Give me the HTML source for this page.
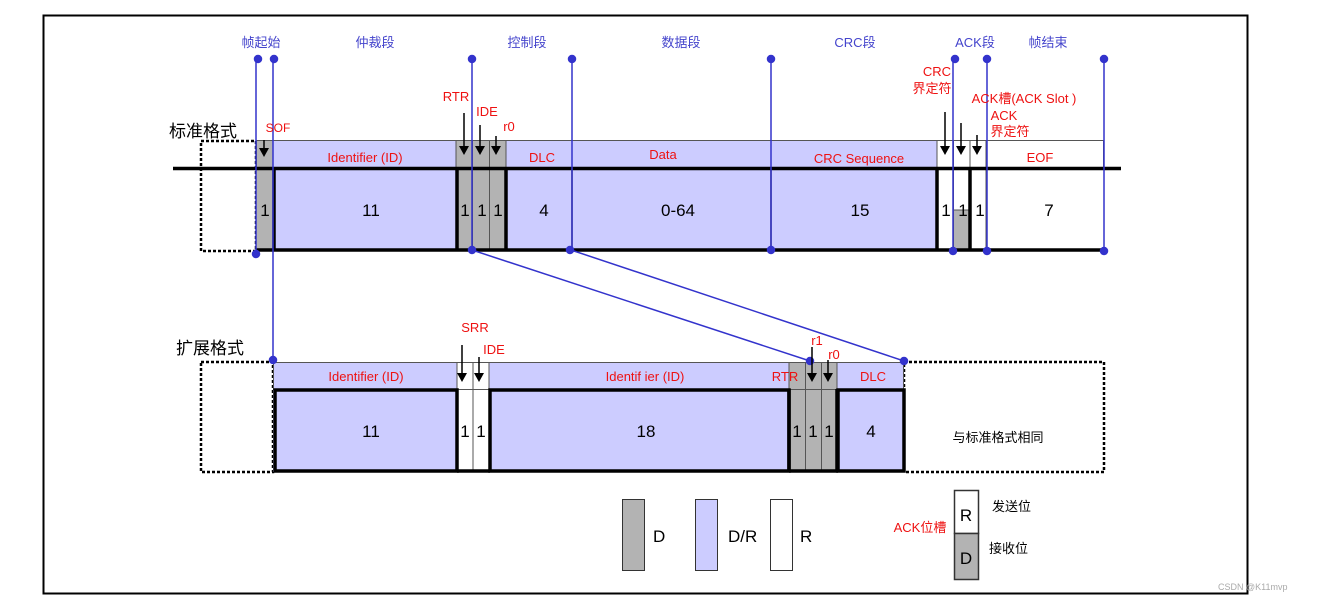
<!DOCTYPE html>
<html><head><meta charset="utf-8"><style>
html,body{margin:0;padding:0;background:#fff;}
svg{display:block;}
text{font-family:"Liberation Sans","Noto Sans CJK SC",sans-serif;}
</style></head><body>
<svg width="1320" height="602" viewBox="0 0 1320 602" xmlns="http://www.w3.org/2000/svg">
<rect x="0" y="0" width="1320" height="602" fill="#fff"/>
<rect x="43.5" y="15.5" width="1204" height="578" fill="none" stroke="#000" stroke-width="2"/>

<!-- ===== Standard frame ===== -->
<!-- fills -->
<rect x="201" y="141" width="55" height="110" fill="#fff" stroke="#000" stroke-width="2.5" stroke-dasharray="3,2"/>
<rect x="256" y="140" width="17" height="111" fill="#b3b3b3"/>
<rect x="273" y="140" width="183" height="111" fill="#ccccff"/>
<rect x="456" y="140" width="50" height="111" fill="#b3b3b3"/>
<rect x="506" y="140" width="431" height="111" fill="#ccccff"/>
<rect x="937" y="140" width="167" height="111" fill="#fff"/>
<rect x="954" y="210" width="16" height="41" fill="#b3b3b3"/>
<!-- top row thin borders -->
<g stroke="#555" stroke-width="1" fill="none">
<rect x="256.5" y="140.5" width="847" height="28"/>
<line x1="273" y1="140" x2="273" y2="168"/>
<line x1="456" y1="140" x2="456" y2="168"/>
<line x1="472.5" y1="140" x2="472.5" y2="251"/>
<line x1="489.5" y1="140" x2="489.5" y2="251"/>
<line x1="506" y1="140" x2="506" y2="168"/>
<line x1="937" y1="140" x2="937" y2="251"/>
<line x1="953.5" y1="140" x2="953.5" y2="251"/>
<line x1="970" y1="140" x2="970" y2="251"/>
<line x1="986" y1="140" x2="986" y2="251"/>
<line x1="954" y1="210" x2="970" y2="210"/>
</g>
<!-- thick lines -->
<g stroke="#000" stroke-width="3.5" fill="none">
<line x1="173" y1="168.5" x2="1121" y2="168.5"/>
<line x1="256" y1="250" x2="1104" y2="250"/>
<line x1="274" y1="168" x2="274" y2="251"/>
<line x1="457" y1="168" x2="457" y2="251"/>
<line x1="506" y1="168" x2="506" y2="251"/>
<line x1="937" y1="168" x2="937" y2="251"/>
<line x1="970" y1="168" x2="970" y2="251"/>
</g>
<g stroke="#333" stroke-width="1.5">
<line x1="572" y1="168" x2="572" y2="250"/>
<line x1="771" y1="168" x2="771" y2="250"/>
</g>

<!-- ===== Extended frame ===== -->
<rect x="201" y="362" width="72" height="110" fill="#fff" stroke="#000" stroke-width="2.5" stroke-dasharray="3,2"/>
<rect x="904" y="362" width="200" height="110" fill="#fff" stroke="#000" stroke-width="2.5" stroke-dasharray="3,2"/>
<rect x="273" y="362" width="184" height="110" fill="#ccccff"/>
<rect x="457" y="362" width="32" height="110" fill="#fff"/>
<rect x="489" y="362" width="300" height="110" fill="#ccccff"/>
<rect x="789" y="362" width="48" height="110" fill="#b3b3b3"/>
<rect x="837" y="362" width="67" height="110" fill="#ccccff"/>
<g stroke="#555" stroke-width="1" fill="none">
<rect x="273.5" y="362.5" width="630" height="27"/>
<line x1="457" y1="362" x2="457" y2="472"/>
<line x1="473" y1="362" x2="473" y2="472"/>
<line x1="489" y1="362" x2="489" y2="389"/>
<line x1="789" y1="362" x2="789" y2="389"/>
<line x1="805.5" y1="362" x2="805.5" y2="472"/>
<line x1="821.5" y1="362" x2="821.5" y2="472"/>
<line x1="837" y1="362" x2="837" y2="389"/>
</g>
<g stroke="#000" stroke-width="3.5" fill="none">
<rect x="275" y="390" width="182" height="81"/>
<rect x="490" y="390" width="299" height="81"/>
<rect x="838" y="390" width="66" height="81"/>
<line x1="457" y1="471" x2="490" y2="471"/>
<line x1="789" y1="471" x2="838" y2="471"/>
<line x1="789" y1="389" x2="789" y2="472"/>
<line x1="837" y1="389" x2="837" y2="472"/>
</g>

<!-- ===== Blue lines ===== -->
<g stroke="#3333cc" stroke-width="1.5" fill="#3333cc">
<line x1="256" y1="59" x2="256" y2="254"/>
<line x1="273" y1="59" x2="273" y2="360"/>
<line x1="472" y1="59" x2="472" y2="250"/>
<line x1="572" y1="59" x2="572" y2="250"/>
<line x1="771" y1="59" x2="771" y2="250"/>
<line x1="953" y1="59" x2="953" y2="252"/>
<line x1="987" y1="59" x2="987" y2="251"/>
<line x1="1104" y1="59" x2="1104" y2="251"/>
<line x1="472" y1="250" x2="810" y2="361"/>
<line x1="571" y1="250" x2="904" y2="361"/>
<circle cx="258" cy="59" r="3.5"/><circle cx="274" cy="59" r="3.5"/>
<circle cx="472" cy="59" r="3.5"/><circle cx="572" cy="59" r="3.5"/>
<circle cx="771" cy="59" r="3.5"/><circle cx="955" cy="59" r="3.5"/>
<circle cx="987" cy="59" r="3.5"/><circle cx="1104" cy="59" r="3.5"/>
<circle cx="256" cy="254" r="3.5"/><circle cx="472" cy="250" r="3.5"/>
<circle cx="570" cy="250" r="3.5"/><circle cx="771" cy="250" r="3.5"/>
<circle cx="953" cy="251" r="3.5"/><circle cx="987" cy="251" r="3.5"/>
<circle cx="1104" cy="251" r="3.5"/>
<circle cx="273" cy="360" r="3.5"/><circle cx="810" cy="361" r="3.5"/><circle cx="904" cy="361" r="3.5"/>
</g>

<!-- ===== arrows ===== -->
<g stroke="#000" stroke-width="1.5">
<line x1="264" y1="140" x2="264" y2="150"/>
<line x1="464" y1="113" x2="464" y2="148"/>
<line x1="480" y1="125" x2="480" y2="148"/>
<line x1="496" y1="136" x2="496" y2="148"/>
<line x1="945" y1="112" x2="945" y2="148"/>
<line x1="961" y1="123" x2="961" y2="148"/>
<line x1="977" y1="135" x2="977" y2="148"/>
<line x1="462" y1="345" x2="462" y2="375"/>
<line x1="479" y1="357" x2="479" y2="375"/>
<line x1="812" y1="347" x2="812" y2="375"/>
<line x1="828" y1="360" x2="828" y2="375"/>
</g>
<g fill="#000">
<polygon points="259,148 269,148 264,157"/>
<polygon points="459,146 469,146 464,155"/>
<polygon points="475,146 485,146 480,155"/>
<polygon points="491,146 501,146 496,155"/>
<polygon points="940,146 950,146 945,155"/>
<polygon points="956,146 966,146 961,155"/>
<polygon points="972,146 982,146 977,155"/>
<polygon points="457,373 467,373 462,382"/>
<polygon points="474,373 484,373 479,382"/>
<polygon points="807,373 817,373 812,382"/>
<polygon points="823,373 833,373 828,382"/>
</g>

<!-- ===== blue section labels ===== -->
<g fill="#4444cc" font-size="13" text-anchor="middle">
<text x="261" y="47">帧起始</text>
<text x="375" y="47">仲裁段</text>
<text x="527" y="47">控制段</text>
<text x="681" y="47">数据段</text>
<text x="855" y="47">CRC段</text>
<text x="975" y="47">ACK段</text>
<text x="1048" y="47">帧结束</text>
</g>

<!-- titles -->
<g fill="#000" font-size="17">
<text x="169" y="137">标准格式</text>
<text x="176" y="354">扩展格式</text>
</g>

<!-- red labels -->
<g fill="#ee1111" font-size="13" text-anchor="middle">
<text x="278" y="132" font-size="12">SOF</text>
<text x="365" y="162">Identifier (ID)</text>
<text x="456" y="101">RTR</text>
<text x="487" y="116">IDE</text>
<text x="509" y="131">r0</text>
<text x="542" y="162">DLC</text>
<text x="663" y="159">Data</text>
<text x="859" y="163">CRC Sequence</text>
<text x="1040" y="162">EOF</text>
<text x="937" y="76">CRC</text>
<text x="932" y="93">界定符</text>
<text x="1024" y="103">ACK槽(ACK Slot )</text>
<text x="1004" y="120">ACK</text>
<text x="1010" y="136">界定符</text>
<text x="475" y="332">SRR</text>
<text x="494" y="354">IDE</text>
<text x="366" y="381">Identifier (ID)</text>
<text x="645" y="381">Identif ier (ID)</text>
<text x="785" y="381">RTR</text>
<text x="817" y="345">r1</text>
<text x="834" y="359">r0</text>
<text x="873" y="381">DLC</text>
<text x="920" y="532">ACK位槽</text>
</g>

<!-- numbers -->
<g fill="#000" font-size="17" text-anchor="middle">
<text x="265" y="216">1</text>
<text x="371" y="216">11</text>
<text x="465" y="216">1</text>
<text x="482" y="216">1</text>
<text x="498" y="216">1</text>
<text x="544" y="216">4</text>
<text x="678" y="216">0-64</text>
<text x="860" y="216">15</text>
<text x="946" y="216">1</text>
<text x="963" y="216">1</text>
<text x="980" y="216">1</text>
<text x="1049" y="216">7</text>
<text x="371" y="437">11</text>
<text x="465" y="437">1</text>
<text x="481" y="437">1</text>
<text x="646" y="437">18</text>
<text x="797" y="437">1</text>
<text x="813" y="437">1</text>
<text x="829" y="437">1</text>
<text x="871" y="437">4</text>
</g>
<text x="998" y="442" font-size="13" fill="#000" text-anchor="middle">与标准格式相同</text>

<!-- legend -->
<rect x="622.5" y="499.5" width="22" height="71" fill="#b3b3b3" stroke="#333" stroke-width="1"/>
<rect x="695.5" y="499.5" width="22" height="71" fill="#ccccff" stroke="#333" stroke-width="1"/>
<rect x="770.5" y="499.5" width="22" height="71" fill="#fff" stroke="#333" stroke-width="1"/>
<g fill="#000" font-size="17">
<text x="653" y="542">D</text>
<text x="728" y="542">D/R</text>
<text x="800" y="542">R</text>
</g>
<rect x="954.5" y="490.5" width="24" height="43" fill="#fff" stroke="#333" stroke-width="1.5"/>
<rect x="954.5" y="533.5" width="24" height="46" fill="#b3b3b3" stroke="#333" stroke-width="1.5"/>
<text x="966" y="521" font-size="17" text-anchor="middle" fill="#000">R</text>
<text x="966" y="564" font-size="17" text-anchor="middle" fill="#000">D</text>
<text x="992" y="511" font-size="13" fill="#000">发送位</text>
<text x="989" y="553" font-size="13" fill="#000">接收位</text>
<text x="1218" y="590" font-size="9" fill="#aaa">CSDN @K11mvp</text>
</svg>
</body></html>
